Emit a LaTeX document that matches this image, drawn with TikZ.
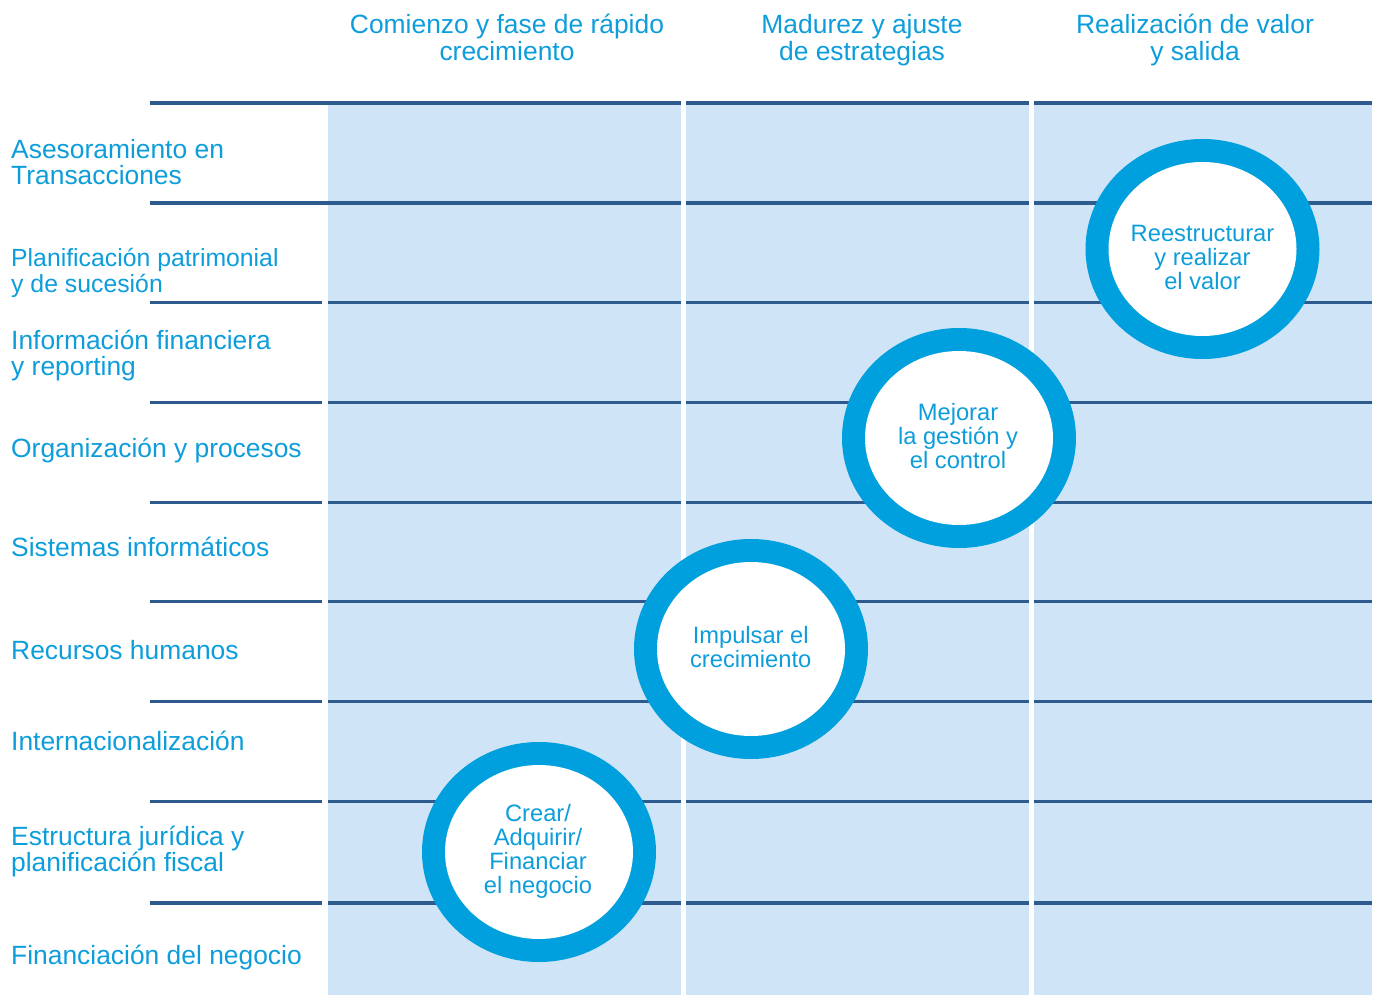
\documentclass[tikz,border=0pt]{standalone}
\usepackage{fontspec}
\setmainfont{Liberation Sans}
\definecolor{cellfill}{HTML}{CFE4F7}
\definecolor{rowline}{HTML}{2E5B8D}
\definecolor{ringblue}{HTML}{009FDE}
\definecolor{txtblue}{HTML}{0D9DDB}
\begin{document}
\begin{tikzpicture}[x=1pt,y=-1pt,
  rowrule/.style={draw=rowline,line width=3.3pt},
  lbl/.style={anchor=base west,inner sep=0pt,text=txtblue,align=left,font=\fontsize{26.4}{26.5}\selectfont},
  hdr/.style={anchor=base,inner sep=0pt,text=txtblue,align=center,font=\fontsize{26.4}{27}\selectfont},
  ctext/.style={anchor=base,inner sep=0pt,text=txtblue,align=center,font=\fontsize{23.7}{24}\selectfont},
  ringfill/.style={fill=ringblue},
  holefill/.style={fill=white}]
\useasboundingbox (0,0) rectangle (1377,995);
% column fills
\fill[cellfill] (328,103) rectangle (681,995);
\fill[cellfill] (686,103) rectangle (1028.5,995);
\fill[cellfill] (1033.5,103) rectangle (1372,995);
% row rules
\foreach \yy in {103,203}{
  \draw[rowrule] (150,\yy) -- (681,\yy);
  \draw[rowrule] (686,\yy) -- (1028.5,\yy);
  \draw[rowrule] (1033.5,\yy) -- (1372,\yy);
}
\foreach \yy in {302.5,402.5,502.3,601.8,701.8,801.3,903}{
  \draw[rowrule] (150,\yy) -- (322,\yy);
  \draw[rowrule] (328,\yy) -- (681,\yy);
  \draw[rowrule] (686,\yy) -- (1028.5,\yy);
  \draw[rowrule] (1033.5,\yy) -- (1372,\yy);
}
% rings
\foreach \cx/\cy in {1202.5/249, 959/438, 751/649, 539/852}{
  \fill[ringfill] (\cx,\cy) ellipse [x radius=117, y radius=110];
  \fill[holefill] (\cx,\cy) ellipse [x radius=94, y radius=87];
}
% headers (anchor base = last line)
\node[hdr] (h1) at (507,60.5) {Comienzo y fase de rápido\\crecimiento};
\node[hdr] (h2) at (862,60.5) {Madurez y ajuste\\de estrategias};
\node[hdr] (h3) at (1195,60.5) {Realización de valor\\y salida};
% row labels
\node[lbl] (r1) at (11,185) {Asesoramiento en\\Transacciones};
\node[lbl,font=\fontsize{24.8}{26.5}\selectfont] (r2) at (11,293) {Planificación patrimonial\\y de sucesión};
\node[lbl] (r3) at (11,375.5) {Información financiera\\y reporting};
\node[lbl] (r4) at (11,457.3) {Organización y procesos};
\node[lbl] (r5) at (11,556) {Sistemas informáticos};
\node[lbl] (r6) at (11,659.3) {Recursos humanos};
\node[lbl] (r7) at (11,750.7) {Internacionalización};
\node[lbl] (r8) at (11,871.7) {Estructura jurídica y\\planificación fiscal};
\node[lbl] (r9) at (11,964) {Financiación del negocio};
% circle texts
\node[ctext] (c1) at (1202.5,289.5) {Reestructurar\\y realizar\\el valor};
\node[ctext] (c2) at (958,468.3) {Mejorar\\la gestión y\\el control};
\node[ctext] (c3) at (750.7,667.5) {Impulsar el\\crecimiento};
\node[ctext] (c4) at (538,893.5) {Crear/\\Adquirir/\\Financiar\\el negocio};
\end{tikzpicture}
\end{document}
